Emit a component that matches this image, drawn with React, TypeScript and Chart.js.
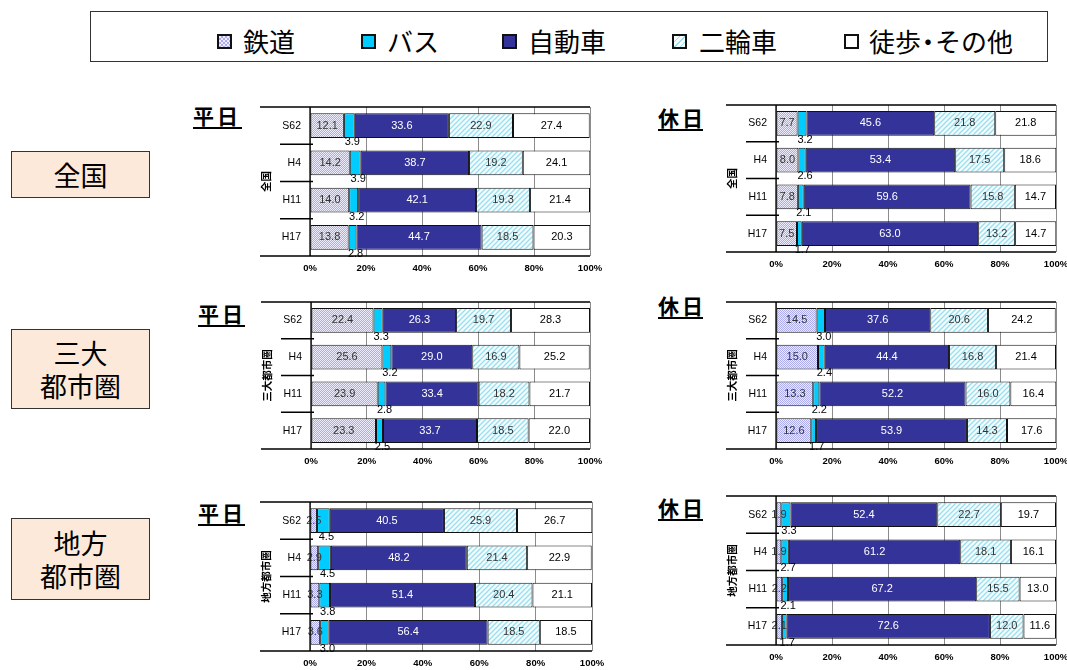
import React, { useEffect, useRef } from "react";
import { Chart, registerables } from "chart.js";
Chart.register(...registerables);

// ---------- data ----------
const categories = ["S62", "H4", "H11", "H17"];
const modes = ["鉄道", "バス", "自動車", "二輪車", "徒歩・その他"];
const xTicks = [0, 20, 40, 60, 80, 100];

// rows: 鉄道, バス, 自動車, 二輪車, 徒歩・その他 ; columns: S62, H4, H11, H17
const zenkokuWeekday = [
  [12.1, 14.2, 14.0, 13.8],
  [3.9, 3.9, 3.2, 2.8],
  [33.6, 38.7, 42.1, 44.7],
  [22.9, 19.2, 19.3, 18.5],
  [27.4, 24.1, 21.4, 20.3],
];
const zenkokuHoliday = [
  [7.7, 8.0, 7.8, 7.5],
  [3.2, 2.6, 2.1, 1.7],
  [45.6, 53.4, 59.6, 63.0],
  [21.8, 17.5, 15.8, 13.2],
  [21.8, 18.6, 14.7, 14.7],
];
const sandaiWeekday = [
  [22.4, 25.6, 23.9, 23.3],
  [3.3, 3.2, 2.8, 2.5],
  [26.3, 29.0, 33.4, 33.7],
  [19.7, 16.9, 18.2, 18.5],
  [28.3, 25.2, 21.7, 22.0],
];
const sandaiHoliday = [
  [14.5, 15.0, 13.3, 12.6],
  [3.0, 2.4, 2.2, 1.7],
  [37.6, 44.4, 52.2, 53.9],
  [20.6, 16.8, 16.0, 14.3],
  [24.2, 21.4, 16.4, 17.6],
];
const chihouWeekday = [
  [2.5, 2.9, 3.3, 3.6],
  [4.5, 4.5, 3.8, 3.0],
  [40.5, 48.2, 51.4, 56.4],
  [25.9, 21.4, 20.4, 18.5],
  [26.7, 22.9, 21.1, 18.5],
];
const chihouHoliday = [
  [1.9, 1.9, 2.2, 2.1],
  [3.3, 2.7, 2.1, 1.7],
  [52.4, 61.2, 67.2, 72.6],
  [22.7, 18.1, 15.5, 12.0],
  [19.7, 16.1, 13.0, 11.6],
];

// ---------- styles ----------
const JP = '"Noto Sans CJK JP", "Noto Sans", sans-serif';
const AR = '"Liberation Sans", Arial, sans-serif';
const labelColors = ["#333", "#000", "#fff", "#333", "#000"];

function railPattern(): CanvasPattern | string {
  const c = document.createElement("canvas");
  c.width = 2;
  c.height = 2;
  const g = c.getContext("2d");
  if (!g) return "#c8c8f0";
  g.fillStyle = "#ececfd";
  g.fillRect(0, 0, 2, 2);
  g.fillStyle = "#acacec";
  g.fillRect(0, 0, 1, 1);
  g.fillRect(1, 1, 1, 1);
  return g.createPattern(c, "repeat") || "#c8c8f0";
}
function bikePattern(): CanvasPattern | string {
  const c = document.createElement("canvas");
  c.width = 5;
  c.height = 5;
  const g = c.getContext("2d");
  if (!g) return "#dbf5fb";
  g.fillStyle = "#f4fcfe";
  g.fillRect(0, 0, 5, 5);
  g.strokeStyle = "#98e0f0";
  g.lineWidth = 1.3;
  g.beginPath();
  g.moveTo(0, 5); g.lineTo(5, 0);
  g.moveTo(-3, 3); g.lineTo(3, -3);
  g.moveTo(2, 8); g.lineTo(8, 2);
  g.stroke();
  return g.createPattern(c, "repeat") || "#dbf5fb";
}

const PADL = 62, PADT = 6, PADR = 16, XAX = 22;

const decorPlugin = {
  id: "decor",
  afterDraw(chart: any, _a: any, opts: any) {
    const { ctx, chartArea } = chart;
    const { left, right, top, bottom } = chartArea;
    const y = chart.scales.y;
    ctx.save();
    ctx.strokeStyle = "#000";
    ctx.lineWidth = 1.3;
    ctx.beginPath();
    ctx.moveTo(left - 50, top); ctx.lineTo(right, top);
    ctx.moveTo(left - 50, bottom); ctx.lineTo(right, bottom);
    ctx.moveTo(left, top); ctx.lineTo(left, bottom);
    for (let i = 1; i < categories.length; i++) {
      const yy = (y.getPixelForValue(i - 1) + y.getPixelForValue(i)) / 2;
      ctx.moveTo(left - 30, yy); ctx.lineTo(left + 3, yy);
    }
    ctx.stroke();
    ctx.translate(left - 44, (top + bottom) / 2);
    ctx.rotate(-Math.PI / 2);
    ctx.fillStyle = "#000";
    ctx.font = `bold 10.5px ${JP}`;
    ctx.textAlign = "center";
    ctx.textBaseline = "middle";
    ctx.fillText(opts.title || "", 0, 0);
    ctx.restore();
  },
};

const labelPlugin = {
  id: "vlabels",
  afterDatasetsDraw(chart: any) {
    const { ctx } = chart;
    ctx.save();
    ctx.font = `11px ${AR}`;
    ctx.textAlign = "center";
    ctx.textBaseline = "middle";
    chart.data.datasets.forEach((ds: any, di: number) => {
      const meta = chart.getDatasetMeta(di);
      meta.data.forEach((el: any, i: number) => {
        const v = ds.data[i];
        const p = el.getProps(["x", "y", "base", "height"], true);
        const cx = (p.x + p.base) / 2;
        ctx.fillStyle = labelColors[di];
        if (di === 1) {
          ctx.fillText(v.toFixed(1), cx + 3, p.y + p.height / 2 + 4);
        } else {
          ctx.fillText(v.toFixed(1), cx, p.y);
        }
      });
    });
    ctx.restore();
  },
};

type PanelProps = { L: number; T: number; R: number; B: number; data: number[][]; axisTitle: string };

function Panel({ L, T, R, B, data, axisTitle }: PanelProps) {
  const ref = useRef<HTMLCanvasElement>(null);
  const left = L - PADL;
  const top = T - PADT;
  const width = R - L + PADL + PADR;
  const height = B - T + PADT + XAX;
  useEffect(() => {
    if (!ref.current) return;
    const fills = [railPattern(), "#00ccff", "#333399", bikePattern(), "#ffffff"];
    const chart = new Chart(ref.current, {
      type: "bar",
      data: {
        labels: categories,
        datasets: modes.map((m, i) => ({
          label: m,
          data: data[i],
          backgroundColor: fills[i] as any,
          borderColor: "#111",
          borderWidth: 1,
          borderSkipped: false,
          barPercentage: 0.67,
          categoryPercentage: 1,
        })),
      },
      options: {
        indexAxis: "y",
        responsive: false,
        maintainAspectRatio: false,
        animation: false,
        events: [],
        layout: { padding: { left: 0, top: PADT, right: PADR, bottom: 0 } },
        plugins: {
          legend: { display: false },
          tooltip: { enabled: false },
          title: { display: false },
          decor: { title: axisTitle },
        } as any,
        scales: {
          x: {
            stacked: true,
            min: 0,
            max: 100,
            afterBuildTicks: (s: any) => {
              s.ticks = xTicks.map((v) => ({ value: v }));
            },
            ticks: {
              callback: (v: any) => v + "%",
              font: { family: AR, size: 9.5, weight: "bold" },
              color: "#000",
              padding: 7,
              maxRotation: 0,
              autoSkip: false,
            },
            grid: { color: "#8c8c8c", lineWidth: 1, drawTicks: false },
            border: { display: false },
            afterFit: (s: any) => {
              s.height = XAX;
              s.paddingLeft = 0;
              s.paddingRight = 0;
            },
          },
          y: {
            stacked: true,
            ticks: {
              font: { family: AR, size: 10.5 },
              color: "#000",
              padding: 9,
            },
            grid: { display: false, drawTicks: false },
            border: { display: false },
            afterFit: (s: any) => {
              s.width = PADL;
              s.paddingTop = 0;
              s.paddingBottom = 0;
            },
          },
        },
      } as any,
      plugins: [decorPlugin, labelPlugin],
    });
    return () => chart.destroy();
  }, []);
  return (
    <canvas
      ref={ref}
      width={width}
      height={height}
      style={{ position: "absolute", left, top, width, height }}
    />
  );
}

function DayTitle({ x, y, w, text }: { x: number; y: number; w: number; text: string }) {
  return (
    <>
      <div
        style={{
          position: "absolute",
          left: x,
          top: y - 3,
          fontFamily: JP,
          fontWeight: "bold",
          fontSize: 21,
          lineHeight: "21px",
          letterSpacing: 3,
          whiteSpace: "nowrap",
          color: "#000",
        }}
      >
        {text}
      </div>
      <div style={{ position: "absolute", left: x, top: y + 19, width: w, height: 2, background: "#000" }} />
    </>
  );
}

function RegionBox({ top, height, lines }: { top: number; height: number; lines: string[] }) {
  return (
    <div
      style={{
        position: "absolute",
        left: 11,
        top,
        width: 139,
        height,
        boxSizing: "border-box",
        border: "1.5px solid #333",
        background: "#fde9d9",
        display: "flex",
        flexDirection: "column",
        alignItems: "center",
        justifyContent: "center",
        fontFamily: JP,
        fontSize: 27,
        lineHeight: "33px",
        color: "#000",
      }}
    >
      {lines.map((l) => (
        <div key={l}>{l}</div>
      ))}
    </div>
  );
}

const legendMarkers = [
  { background: "repeating-conic-gradient(#acacec 0% 25%, #ececfd 0% 50%) 0 0 / 4px 4px" },
  { background: "#00ccff" },
  { background: "#333399" },
  { background: "repeating-linear-gradient(-45deg, #f4fcfe 0px, #f4fcfe 3px, #98e0f0 3px, #98e0f0 4px)" },
  { background: "#ffffff" },
];
const legendMarkerX = [217, 361, 502, 672, 844];
const legendTextX = [243, 387, 528, 699, 869];

function Legend() {
  return (
    <>
      <div
        style={{
          position: "absolute",
          left: 90,
          top: 11,
          width: 958,
          height: 51,
          boxSizing: "border-box",
          border: "1.5px solid #333",
          background: "#fff",
        }}
      />
      {modes.map((m, i) => (
        <React.Fragment key={m}>
          <div
            style={{
              position: "absolute",
              left: legendMarkerX[i],
              top: 34,
              width: 15,
              height: 15,
              boxSizing: "border-box",
              border: "2px solid #111",
              ...legendMarkers[i],
            }}
          />
          <div
            style={{
              position: "absolute",
              left: legendTextX[i],
              top: 28,
              fontFamily: JP,
              fontSize: 26,
              lineHeight: "26px",
              whiteSpace: "nowrap",
              color: "#000",
            }}
          >
            {m.split("・").map((part, k, arr) => (
              <React.Fragment key={k}>
                {part}
                {k < arr.length - 1 ? <span style={{ margin: "0 -6px" }}>・</span> : null}
              </React.Fragment>
            ))}
          </div>
        </React.Fragment>
      ))}
    </>
  );
}

export default function App() {
  return (
    <div
      style={{
        position: "absolute",
        left: 0,
        top: 0,
        width: 1067,
        height: 670,
        overflow: "hidden",
        background: "#fff",
      }}
    >
      <Legend />
      <RegionBox top={151} height={47} lines={["全国"]} />
      <RegionBox top={329} height={80} lines={["三大", "都市圏"]} />
      <RegionBox top={518} height={82} lines={["地方", "都市圏"]} />

      <DayTitle x={193} y={108} w={49} text="平日" />
      <DayTitle x={658} y={110} w={45} text="休日" />
      <DayTitle x={198} y={306} w={47} text="平日" />
      <DayTitle x={658} y={298} w={45} text="休日" />
      <DayTitle x={198} y={505} w={47} text="平日" />
      <DayTitle x={658} y={500} w={45} text="休日" />

      <Panel L={310} T={107} R={590} B={256} data={zenkokuWeekday} axisTitle="全国" />
      <Panel L={776} T={105} R={1056} B={252} data={zenkokuHoliday} axisTitle="全国" />
      <Panel L={311} T={302} R={590} B={449} data={sandaiWeekday} axisTitle="三大都市圏" />
      <Panel L={776} T={302} R={1056} B={449} data={sandaiHoliday} axisTitle="三大都市圏" />
      <Panel L={310} T={502} R={592} B={651} data={chihouWeekday} axisTitle="地方都市圏" />
      <Panel L={776} T={496} R={1056} B={645} data={chihouHoliday} axisTitle="地方都市圏" />
    </div>
  );
}
